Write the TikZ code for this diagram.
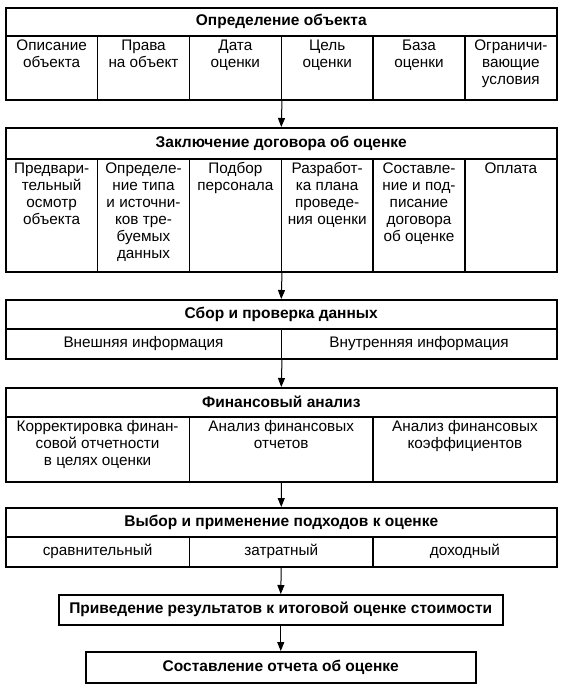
\documentclass[tikz,border=0pt]{standalone}
\usepackage{fontspec}
\setmainfont{Liberation Sans}
\usetikzlibrary{arrows.meta}
\newcommand{\celltext}[3]{\parbox[c][#2][t]{#1}{\centering\rule{0pt}{15pt}#3\par}}
\begin{document}
\begin{tikzpicture}[x=1pt,y=-1pt,
  box/.style={draw, line width=1.5pt, inner sep=0pt, anchor=north west, align=center},
  ttl/.style={box, font=\fontsize{15.5}{17}\selectfont\bfseries},
  cell/.style={box, font=\fontsize{15.3}{17}\selectfont},
  arr/.style={line width=1pt, -{Triangle[width=7pt,length=9pt]}}]
\useasboundingbox (0,0) rectangle (561,689);
% block 1
\node[ttl, minimum width=551pt, minimum height=28pt] (t1) at (5,7) {Определение объекта};
\node[cell] (c11) at (5,35) {\celltext{91.83pt}{64pt}{Описание\\объекта}};
\node[cell] (c12) at (96.83,35) {\celltext{91.83pt}{64pt}{Права\\на объект}};
\node[cell] (c13) at (188.67,35) {\celltext{91.83pt}{64pt}{Дата\\оценки}};
\node[cell] (c14) at (280.5,35) {\celltext{91.83pt}{64pt}{Цель\\оценки}};
\node[cell] (c15) at (372.33,35) {\celltext{91.83pt}{64pt}{База\\оценки}};
\node[cell] (c16) at (464.17,35) {\celltext{91.83pt}{64pt}{Ограничи-\\вающие\\условия}};
% block 2
\node[ttl, minimum width=551pt, minimum height=31pt] (t2) at (5,127) {Заключение договора об оценке};
\node[cell] (c21) at (5,158) {\celltext{91.83pt}{113pt}{Предвари-\\тельный\\осмотр\\объекта}};
\node[cell] (c22) at (96.83,158) {\celltext{91.83pt}{113pt}{Определе-\\ние типа\\и источни-\\ков тре-\\буемых\\данных}};
\node[cell] (c23) at (188.67,158) {\celltext{91.83pt}{113pt}{Подбор\\персонала}};
\node[cell] (c24) at (280.5,158) {\celltext{91.83pt}{113pt}{Разработ-\\ка плана\\проведе-\\ния оценки}};
\node[cell] (c25) at (372.33,158) {\celltext{91.83pt}{113pt}{Составле-\\ние и под-\\писание\\договора\\об оценке}};
\node[cell] (c26) at (464.17,158) {\celltext{91.83pt}{113pt}{Оплата}};
% block 3
\node[ttl, minimum width=551pt, minimum height=29pt] (t3) at (5,299) {Сбор и проверка данных};
\node[cell, minimum width=275.5pt, minimum height=30pt] (c31) at (5,328) {Внешняя информация};
\node[cell, minimum width=275.5pt, minimum height=30pt] (c32) at (280.5,328) {Внутренняя информация};
% block 4
\node[ttl, minimum width=551pt, minimum height=29pt] (t4) at (5,387) {Финансовый анализ};
\node[cell] (c41) at (5,416) {\celltext{183.67pt}{65pt}{Корректировка финан-\\совой отчетности\\в целях оценки}};
\node[cell] (c42) at (188.67,416) {\celltext{183.67pt}{65pt}{Анализ финансовых\\отчетов}};
\node[cell] (c43) at (372.33,416) {\celltext{183.67pt}{65pt}{Анализ финансовых\\коэффициентов}};
% block 5
\node[ttl, minimum width=551pt, minimum height=29pt] (t5) at (5,507) {Выбор и применение подходов к оценке};
\node[cell, minimum width=183.67pt, minimum height=30pt] (c51) at (5,536) {сравнительный};
\node[cell, minimum width=183.67pt, minimum height=30pt] (c52) at (188.67,536) {затратный};
\node[cell, minimum width=183.67pt, minimum height=30pt] (c53) at (372.33,536) {доходный};
% block 6, 7
\node[ttl, minimum width=444pt, minimum height=30pt] (b6) at (58,594) {Приведение результатов к итоговой оценке стоимости};
\node[ttl, minimum width=390pt, minimum height=31pt] (b7) at (85,651) {Составление отчета об оценке};
% arrows
\draw[arr] (c13.south east) -- (t2.north);
\draw[arr] (c23.south east) -- (t3.north);
\draw[arr] (c31.south east) -- (t4.north);
\draw[arr] (c42.south) -- (t5.north);
\draw[arr] (c52.south) -- (b6.north);
\draw[arr] (b6.south) -- (b7.north);
\end{tikzpicture}
\end{document}
